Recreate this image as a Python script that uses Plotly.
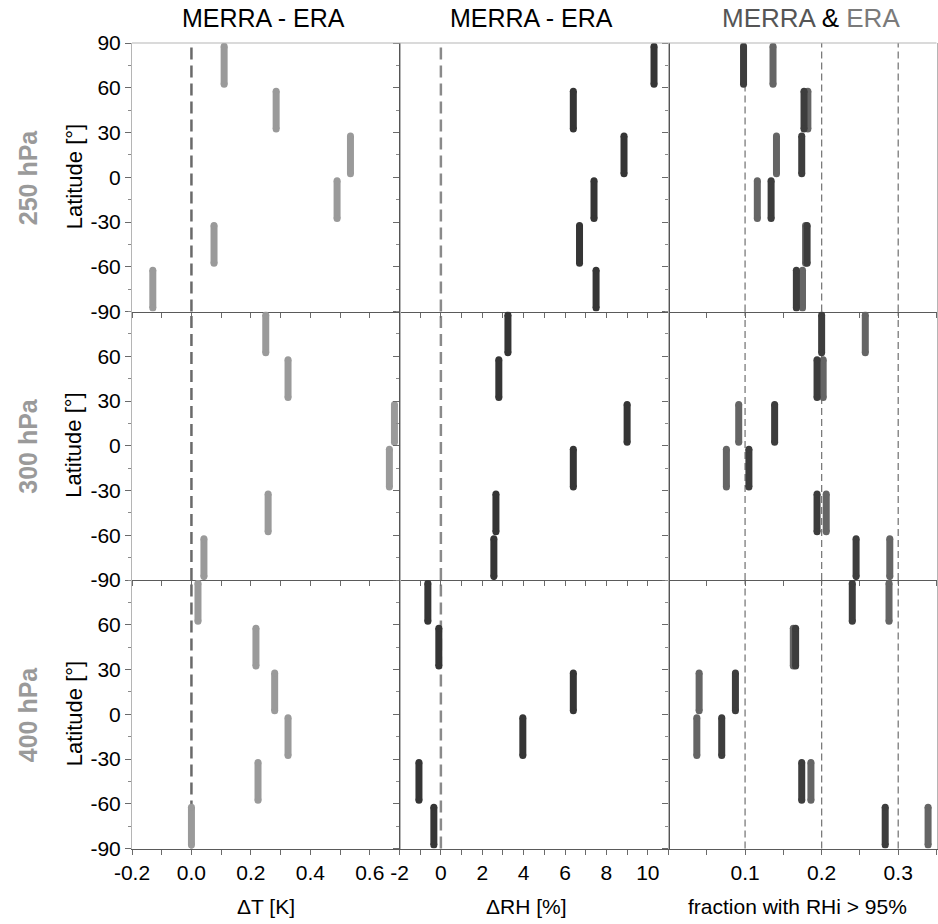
import plotly.graph_objects as go
from plotly.subplots import make_subplots

# ---------------- data ----------------
LEVELS = ["250 hPa", "300 hPa", "400 hPa"]
BAND_LO = [60, 30, 0, -30, -60, -90]
BAND_HI = [90, 60, 30, 0, -30, -60]

# column 1: MERRA - ERA temperature difference [K]
DT_250 = [0.11, 0.285, 0.535, 0.49, 0.076, -0.13]
DT_300 = [0.25, 0.325, 0.683, 0.666, 0.258, 0.042]
DT_400 = [0.022, 0.217, 0.28, 0.325, 0.224, 0.0]

# column 2: MERRA - ERA relative humidity difference [%]
DRH_250 = [10.3, 6.4, 8.85, 7.4, 6.7, 7.5]
DRH_300 = [3.24, 2.8, 9.0, 6.4, 2.66, 2.56]
DRH_400 = [-0.63, -0.1, 6.4, 3.96, -1.06, -0.34]

# column 3: fraction with RHi > 95%
MERRA_250 = [0.098, 0.177, 0.174, 0.134, 0.181, 0.167]
ERA_250 = [0.1365, 0.182, 0.141, 0.116, 0.179, 0.175]
MERRA_300 = [0.200, 0.194, 0.1386, 0.105, 0.194, 0.245]
ERA_300 = [0.257, 0.202, 0.0917, 0.0756, 0.206, 0.289]
MERRA_400 = [0.240, 0.166, 0.0874, 0.0695, 0.174, 0.283]
ERA_400 = [0.288, 0.163, 0.040, 0.037, 0.186, 0.339]

# tick labels
LAT_TICKS = [90, 60, 30, 0, -30, -60, -90]
LAT_LABELS = ["90", "60", "30", "0", "-30", "-60", "-90"]
DT_TICKS = [-0.2, 0.0, 0.2, 0.4, 0.6]
DT_LABELS = ["-0.2", "0.0", "0.2", "0.4", "0.6"]
DRH_TICKS = [-2, 0, 2, 4, 6, 8, 10]
DRH_LABELS = ["-2", "0", "2", "4", "6", "8", "10"]
FR_TICKS = [0.1, 0.2, 0.3]
FR_LABELS = ["0.1", "0.2", "0.3"]

DT_ROWS = [DT_250, DT_300, DT_400]
DRH_ROWS = [DRH_250, DRH_300, DRH_400]
MERRA_ROWS = [MERRA_250, MERRA_300, MERRA_400]
ERA_ROWS = [ERA_250, ERA_300, ERA_400]

X_TITLES = ["\u0394T [K]", "\u0394RH [%]", "fraction with RHi > 95%"]
COL_TITLES = [
    "MERRA - ERA",
    "MERRA - ERA",
    '<span style="color:#555555">MERRA</span> & <span style="color:#7a7a7a">ERA</span>',
]

FONT = "Liberation Sans, Arial, sans-serif"
C_DT = "#9a9a9a"
C_DRH = "#353535"
C_MERRA = "#3d3d3d"
C_ERA = "#656565"
BAR_W = 7
CAP = 2.3  # latitude degrees taken by the round cap

W, H = 938, 924
COL_PX = [(132, 399.5), (399.5, 668.5), (668.5, 936.5)]
ROW_PX = [(43, 311.5), (311.5, 580), (580, 848.5)]
TITLE_X = [263, 531, 811]
XTITLE_X = [266, 526, 797]

fig = make_subplots(rows=3, cols=3, horizontal_spacing=0, vertical_spacing=0)


def bar_trace(values, color):
    xs, ys = [], []
    for v, lo, hi in zip(values, BAND_LO, BAND_HI):
        xs += [v, v, None]
        ys += [lo + CAP, hi - CAP, None]
    return go.Scatter(
        x=xs, y=ys, mode="lines+markers",
        line=dict(color=color, width=BAR_W),
        marker=dict(color=color, size=BAR_W, line=dict(width=0)),
        showlegend=False, hoverinfo="skip",
    )


for r in range(3):
    fig.add_trace(bar_trace(DT_ROWS[r], C_DT), row=r + 1, col=1)
    fig.add_trace(bar_trace(DRH_ROWS[r], C_DRH), row=r + 1, col=2)
    fig.add_trace(bar_trace(ERA_ROWS[r], C_ERA), row=r + 1, col=3)
    fig.add_trace(bar_trace(MERRA_ROWS[r], C_MERRA), row=r + 1, col=3)

tickfont = dict(family=FONT, size=21, color="black")

X_SPECS = [
    dict(range=[-0.2, 0.7], tickvals=DT_TICKS, ticktext=DT_LABELS,
         minor=dict(tick0=-0.2, dtick=0.1)),
    dict(range=[-2, 11], tickvals=DRH_TICKS, ticktext=DRH_LABELS,
         minor=dict(tick0=-2, dtick=1)),
    dict(range=[0, 0.35], tickvals=FR_TICKS, ticktext=FR_LABELS,
         minor=dict(tick0=0, dtick=0.05)),
]

for r in range(3):
    for c in range(3):
        idx = r * 3 + c + 1
        xa = "xaxis" if idx == 1 else f"xaxis{idx}"
        ya = "yaxis" if idx == 1 else f"yaxis{idx}"
        x0, x1 = COL_PX[c]
        y0, y1 = ROW_PX[r]
        spec = X_SPECS[c]
        fig.layout[xa].update(
            domain=[x0 / W, x1 / W], automargin=False,
            range=spec["range"], tickvals=spec["tickvals"], ticktext=spec["ticktext"],
            showgrid=False, zeroline=False,
            showline=True, linecolor="#5a5a5a", linewidth=1.2, mirror=False,
            ticks="outside", ticklen=5, tickcolor="#6a6a6a", tickwidth=1,
            minor=dict(ticks="outside", ticklen=5, tickcolor="#6a6a6a", showgrid=False,
                       **spec["minor"]),
            showticklabels=(r == 2), tickfont=tickfont,
        )
        yt = LAT_TICKS if r == 0 else LAT_TICKS[1:]
        yl = LAT_LABELS if r == 0 else LAT_LABELS[1:]
        fig.layout[ya].update(
            domain=[1 - y1 / H, 1 - y0 / H], automargin=False,
            range=[-90, 90], tickvals=yt, ticktext=yl,
            showgrid=False, zeroline=False,
            showline=True, linecolor="#555555" if c == 1 else "#b5b5b5", linewidth=1,
            mirror=True,
            ticks="outside", ticklen=6, tickcolor="#6a6a6a", tickwidth=1,
            minor=dict(ticks="outside", ticklen=3, tickcolor="#8a8a8a", tick0=-90,
                       dtick=15, showgrid=False),
            showticklabels=(c == 0), tickfont=tickfont,
        )

# reference dashed lines
shapes = []
for r in range(3):
    base = r * 3
    sx1 = "x" if base + 1 == 1 else f"x{base + 1}"
    sy1 = "y" if base + 1 == 1 else f"y{base + 1}"
    shapes.append(dict(type="line", xref=sx1, yref=f"{sy1} domain", x0=0, x1=0, y0=0, y1=1,
                       line=dict(color="#6a6a6a", width=2.5, dash="12px,6px"), layer="below"))
    shapes.append(dict(type="line", xref=f"x{base + 2}", yref=f"y{base + 2} domain", x0=0, x1=0,
                       y0=0, y1=1, line=dict(color="#8a8a8a", width=2.5, dash="12px,6px"),
                       layer="below"))
    for xv in [0.1, 0.2, 0.3]:
        shapes.append(dict(type="line", xref=f"x{base + 3}", yref=f"y{base + 3} domain",
                           x0=xv, x1=xv, y0=0, y1=1,
                           line=dict(color="#7a7a7a", width=1.3, dash="7px,4px"), layer="below"))
# light top border
shapes.append(dict(type="line", xref="paper", yref="paper", x0=COL_PX[0][0] / W,
                   x1=COL_PX[2][1] / W, y0=1 - 43 / H, y1=1 - 43 / H,
                   line=dict(color="#b5b5b5", width=1)))

annotations = []
for c in range(3):
    annotations.append(dict(text=COL_TITLES[c], x=TITLE_X[c] / W,
                            y=1 - 18 / H, xref="paper", yref="paper", showarrow=False,
                            xanchor="center", yanchor="middle",
                            font=dict(family=FONT, size=25 if c < 2 else 26, color="black")))
    annotations.append(dict(text=X_TITLES[c], x=XTITLE_X[c] / W, y=1 - 906 / H,
                            xref="paper", yref="paper", showarrow=False,
                            xanchor="center", yanchor="middle",
                            font=dict(family=FONT, size=21, color="black")))
for r in range(3):
    yc = 1 - (ROW_PX[r][0] + ROW_PX[r][1]) / 2 / H
    annotations.append(dict(text="Latitude [\u00b0]", x=74 / W, y=yc, xref="paper", yref="paper",
                            showarrow=False, textangle=-90, xanchor="center", yanchor="middle",
                            font=dict(family=FONT, size=22, color="black")))
    annotations.append(dict(text="<b>" + LEVELS[r] + "</b>", x=28 / W, y=yc, xref="paper",
                            yref="paper", showarrow=False, textangle=-90, xanchor="center",
                            yanchor="middle", font=dict(family=FONT, size=25, color="#9a9a9a")))

fig.update_layout(
    width=W, height=H,
    margin=dict(l=0, r=0, t=0, b=0),
    paper_bgcolor="white", plot_bgcolor="white",
    shapes=shapes, annotations=annotations,
    font=dict(family=FONT),
)

fig.write_html("out.html")
